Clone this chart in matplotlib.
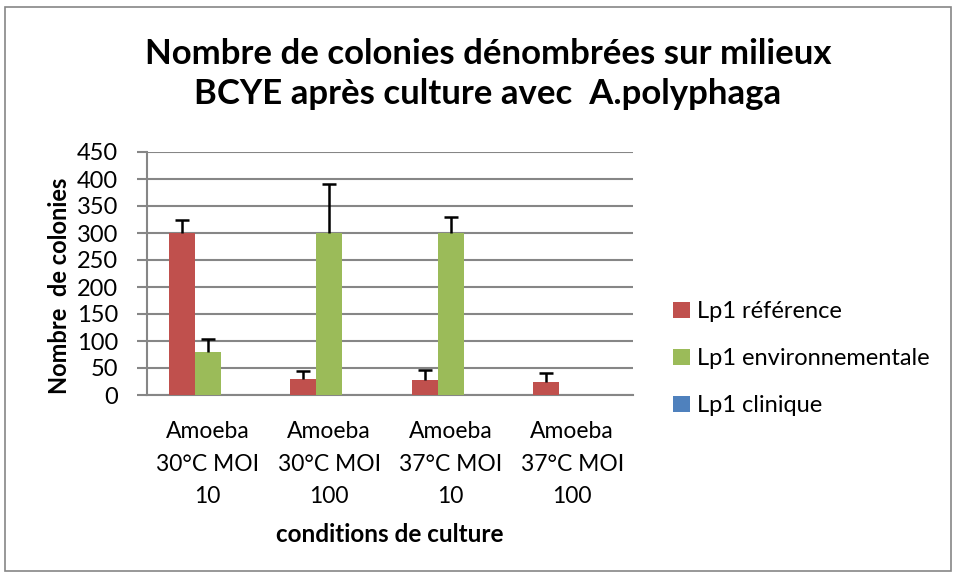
import numpy as np
import matplotlib.pyplot as plt
from matplotlib.patches import Rectangle

plt.rcParams['font.family'] = ['Lato', 'DejaVu Sans']

# données
conditions = ['Amoeba\n30°C MOI\n10', 'Amoeba\n30°C MOI\n100',
              'Amoeba\n37°C MOI\n10', 'Amoeba\n37°C MOI\n100']
series = ['Lp1 référence', 'Lp1 environnementale', 'Lp1 clinique']
ref_vals = [300, 29, 27, 25]
ref_err = [25, 16, 19, 16]
env_vals = [79, 300, 300, 0]
env_err = [24, 90, 29, 0]
cli_vals = [0, 0, 0, 0]
cli_err = [0, 0, 0, 0]
colors = ['#C0504D', '#9BBB59', '#4F81BD']

fig = plt.figure(figsize=(9.54, 5.75), dpi=100)
ax = fig.add_axes([147/954, 1-395/575, (633-147)/954, (395-152)/575])

x = np.arange(len(conditions))
w = 0.215
data = [(ref_vals, ref_err), (env_vals, env_err), (cli_vals, cli_err)]
for i, (vals, err) in enumerate(data):
    pos = x + (i - 1) * w
    ax.bar(pos, vals, w, color=colors[i], label=series[i], zorder=3)
    show = np.array(err) > 0
    if not show.any():
        continue
    eb = ax.errorbar(pos[show], np.array(vals)[show],
                     yerr=[np.zeros(show.sum()), np.array(err)[show]],
                     fmt='none', ecolor='black', elinewidth=1.8, capsize=5,
                     capthick=1.8, zorder=4)
    eb[1][0].remove()  # pas de barre en bas

ax.set_xlim(-0.5, 3.5)
ax.set_ylim(0, 450)
ax.set_yticks(range(0, 451, 50))
ax.yaxis.grid(True, color='#868686', linewidth=1.5, zorder=0)
ax.set_axisbelow(True)
for s in ['top', 'right']:
    ax.spines[s].set_visible(False)
ax.spines['left'].set_color('#868686')
ax.spines['left'].set_linewidth(1.5)
ax.spines['bottom'].set_color('#868686')
ax.spines['bottom'].set_linewidth(1.5)
ax.tick_params(axis='y', length=7, width=1.5, color='#868686',
               labelsize=17, pad=14)
ax.tick_params(axis='x', length=0, labelsize=16.5, pad=19)
ax.set_xticks(x)
ax.set_xticklabels(conditions, linespacing=1.66)

fig.text(390/954, 1-535/575, 'conditions de culture', fontsize=17.5,
         fontweight='bold', ha='center', va='center')
fig.text(60/954, 1-286/575, 'Nombre  de colonies', rotation=90,
         fontsize=17, fontweight='bold', ha='center', va='center')

fig.text(488/954, 1-74/575,
         'Nombre de colonies dénombrées sur milieux\nBCYE après culture avec  A.polyphaga',
         fontsize=25, fontweight='bold', ha='center', va='center',
         linespacing=1.33)

leg = fig.legend(loc='upper left', bbox_to_anchor=(652/954, 1-280/575),
                 frameon=False, fontsize=17, handlelength=0.7,
                 handleheight=0.7, handletextpad=0.3, labelspacing=1.1)

fig.patches.append(Rectangle((5/954, 4/575), 946/954, 564/575,
                             transform=fig.transFigure, fill=False,
                             edgecolor='#868686', linewidth=1.2))

fig.savefig('out.png', dpi=100)
